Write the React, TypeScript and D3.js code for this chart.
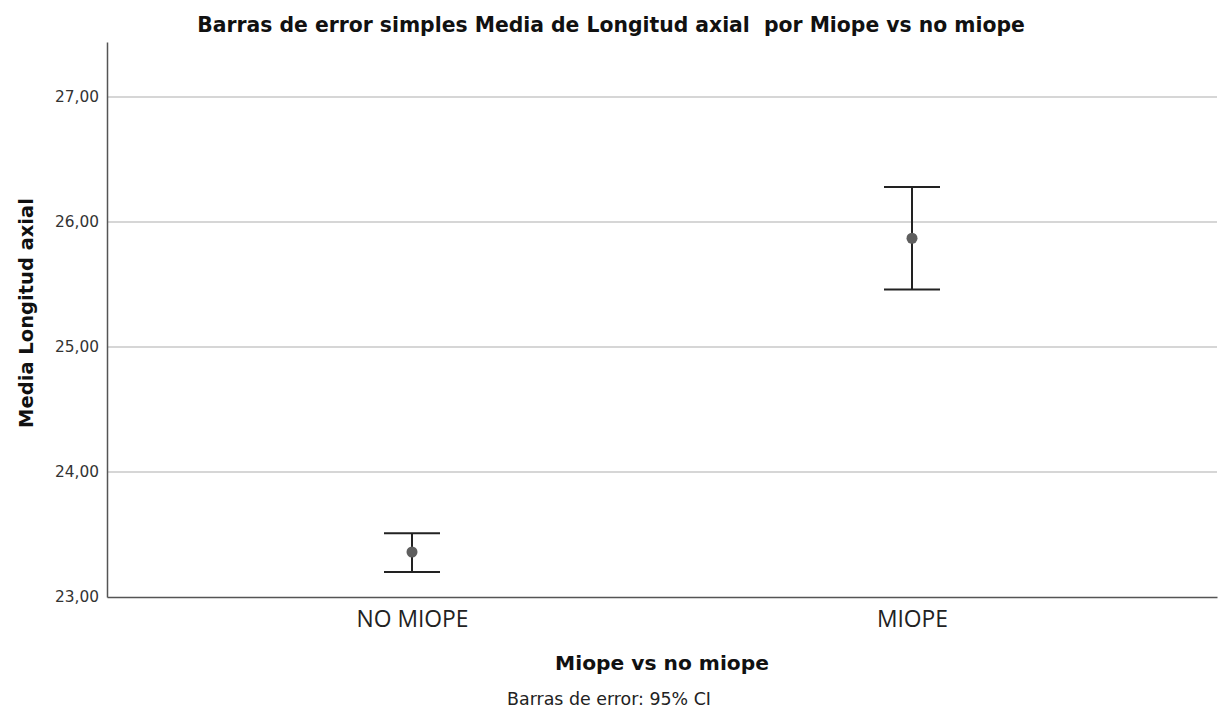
import React, { useEffect, useRef } from "react";
import * as d3 from "d3";

// Data
const groups = ["NO MIOPE", "MIOPE"];
const means = [23.36, 25.87];
const lower = [23.2, 25.46];
const upper = [23.51, 26.28];
const yTicks = [23, 24, 25, 26, 27];

// shrink/grow font so a text hits the width seen in the reference
function fit(sel: d3.Selection<SVGTextElement, any, any, any>, target: number, base: number) {
  sel.attr("font-size", base);
  const len = (sel.node() as SVGTextElement).getComputedTextLength() || target;
  sel.attr("font-size", (base * target) / len);
}

export default function App() {
  const ref = useRef<SVGSVGElement>(null);

  useEffect(() => {
    const node = ref.current;
    if (!node) return;
    const w = 1220;
    const h = 716;
    const m = { t: 42, r: 3, b: 119, l: 107 };
    const font = "'DejaVu Sans', Verdana, sans-serif";
    const labelFont = "'Open Sans', 'Liberation Sans', sans-serif";

    const svg = d3.select(node);
    svg.selectAll("*").remove();

    const x = d3.scalePoint<string>().domain(groups).range([m.l, w - m.r]).padding(0.61);
    const y = d3.scaleLinear().domain([23, 27.44]).range([h - m.b, m.t]);

    // gridlines
    svg.append("g")
      .selectAll("line")
      .data(yTicks.slice(1))
      .enter()
      .append("line")
      .attr("x1", m.l)
      .attr("x2", w - m.r)
      .attr("y1", d => y(d))
      .attr("y2", d => y(d))
      .attr("stroke", "#c8c8c8")
      .attr("stroke-width", 1.5);

    // y axis
    const ya = svg.append("g")
      .attr("transform", `translate(${m.l},0)`)
      .call(d3.axisLeft(y).tickValues(yTicks).tickSize(0).tickPadding(8)
        .tickFormat(d => d3.format(".2f")(d as number).replace(".", ",")));
    ya.select(".domain").attr("stroke", "#555").attr("stroke-width", 1.5);
    ya.selectAll<SVGTextElement, number>("text")
      .attr("font-family", font)
      .attr("fill", "#333")
      .each(function () { fit(d3.select(this), 44, 13); });

    // x axis
    const xa = svg.append("g")
      .attr("transform", `translate(0,${h - m.b})`)
      .call(d3.axisBottom(x).tickSize(0));
    xa.select(".domain").attr("stroke", "#555").attr("stroke-width", 1.5);
    const xl = xa.selectAll<SVGTextElement, string>("text")
      .attr("font-family", labelFont)
      .attr("fill", "#222")
      .attr("y", 30)
      .attr("dy", 0);
    fit(xl.filter(d => d === "NO MIOPE"), 112, 18);
    xl.attr("font-size", xl.filter(d => d === "NO MIOPE").attr("font-size"));

    const data = groups.map((g, i) => ({ g, mean: means[i], lo: lower[i], hi: upper[i] }));
    const cap = 28;
    const eb = svg.append("g").attr("stroke", "#222").attr("stroke-width", 2);
    data.forEach(d => {
      const cx = x(d.g)!;
      eb.append("line").attr("x1", cx).attr("x2", cx).attr("y1", y(d.lo)).attr("y2", y(d.hi));
      eb.append("line").attr("x1", cx - cap).attr("x2", cx + cap).attr("y1", y(d.lo)).attr("y2", y(d.lo));
      eb.append("line").attr("x1", cx - cap).attr("x2", cx + cap).attr("y1", y(d.hi)).attr("y2", y(d.hi));
    });

    svg.selectAll("circle.mean")
      .data(data)
      .enter()
      .append("circle")
      .attr("class", "mean")
      .attr("cx", d => x(d.g)!)
      .attr("cy", d => y(d.mean))
      .attr("r", 5.5)
      .attr("fill", "#5f5f5f");

    // titles
    const title = svg.append("text")
      .attr("x", 611)
      .attr("y", 32)
      .attr("text-anchor", "middle")
      .attr("font-family", font)
      .attr("font-weight", "bold")
      .attr("fill", "#111")
      .style("white-space", "pre")
      .text("Barras de error simples Media de Longitud axial  por Miope vs no miope");
    fit(title, 828, 17);

    const yt = svg.append("text")
      .attr("transform", `translate(33,313) rotate(-90)`)
      .attr("text-anchor", "middle")
      .attr("font-family", font)
      .attr("font-weight", "bold")
      .attr("fill", "#111")
      .text("Media Longitud axial");
    fit(yt, 230, 17);

    const xt = svg.append("text")
      .attr("x", 662)
      .attr("y", 670)
      .attr("text-anchor", "middle")
      .attr("font-family", font)
      .attr("font-weight", "bold")
      .attr("fill", "#111")
      .text("Miope vs no miope");
    fit(xt, 214, 17);

    const note = svg.append("text")
      .attr("x", 609)
      .attr("y", 705)
      .attr("text-anchor", "middle")
      .attr("font-family", font)
      .attr("fill", "#222")
      .text("Barras de error: 95% CI");
    fit(note, 204, 13);
  }, []);

  return (
    <svg
      ref={ref}
      width={1220}
      height={716}
      style={{ position: "absolute", left: 0, top: 0, background: "#fff" }}
    />
  );
}
